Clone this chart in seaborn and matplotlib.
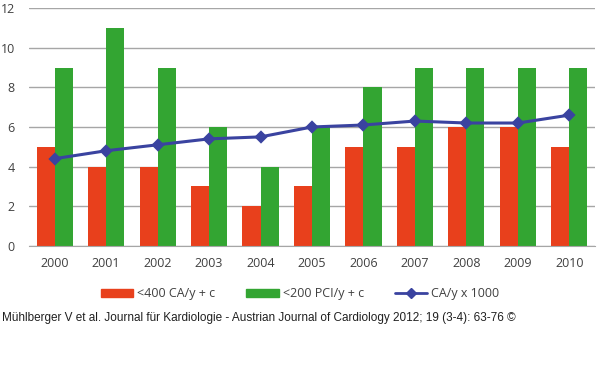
import numpy as np
import pandas as pd
import matplotlib
matplotlib.use('Agg')
import matplotlib.pyplot as plt
import seaborn as sns
from matplotlib.patches import Patch
from matplotlib.lines import Line2D

years = ['2000', '2001', '2002', '2003', '2004', '2005', '2006', '2007', '2008', '2009', '2010']
ca_400 = [5, 4, 4, 3, 2, 3, 5, 5, 6, 6, 5]
pci_200 = [9, 11, 9, 6, 4, 6, 8, 9, 9, 9, 9]
ca_per_1000 = [4.4, 4.8, 5.1, 5.4, 5.5, 6.0, 6.1, 6.3, 6.2, 6.2, 6.6]

labels = ['<400 CA/y + c', '<200 PCI/y + c', 'CA/y x 1000']
red = '#E8401C'
green = '#33A532'
blue = '#3A43A0'

df = pd.DataFrame({
    'year': years * 2,
    'value': ca_400 + pci_200,
    'series': [labels[0]] * len(years) + [labels[1]] * len(years),
})
line_df = pd.DataFrame({'year': years, 'value': ca_per_1000})

sns.set_style('white')
plt.rcParams['font.family'] = ['Open Sans', 'DejaVu Sans']

fig = plt.figure(figsize=(6, 3.67), dpi=100)
ax = fig.add_axes([0.048, 0.33, 0.944, 0.648])

sns.barplot(data=df, x='year', y='value', hue='series', order=years,
            hue_order=labels[:2], palette=[red, green], width=0.7,
            saturation=1, linewidth=0, ax=ax, legend=False)
sns.pointplot(data=line_df, x='year', y='value', order=years, color=blue,
              markers='D', markersize=5.5, linewidth=2.2, ax=ax)

ax.set_ylim(0, 12)
ax.set_yticks(range(0, 13, 2))
ax.set_xlim(-0.5, len(years) - 0.5)
ax.yaxis.grid(True, color='#A6A6A6', linewidth=1)
ax.set_axisbelow(True)
for s in ['top', 'right', 'left']:
    ax.spines[s].set_visible(False)
ax.spines['bottom'].set_color('#A6A6A6')
ax.set_xlabel('')
ax.set_ylabel('')
ax.tick_params(axis='both', length=0, labelsize=9, colors='#404040')
ax.tick_params(axis='x', pad=8)
ax.tick_params(axis='y', pad=10)

handles = [Patch(color=red), Patch(color=green),
           Line2D([0], [0], color=blue, marker='D', markersize=5, linewidth=2)]
fig.legend(handles, labels, loc='center', bbox_to_anchor=(0.5, 0.2), ncol=3,
           frameon=False, fontsize=9, handlelength=2.6, handleheight=0.6,
           columnspacing=2.5, handletextpad=0.3, labelcolor='#404040')

fig.text(0.003, 0.133, 'Mühlberger V et al. Journal für Kardiologie - Austrian Journal of Cardiology 2012; 19 (3-4): 63-76 ©',
         fontsize=8.5, family=['Liberation Sans', 'DejaVu Sans'], color='#202020', va='center')

fig.savefig('out.png', dpi=100)
